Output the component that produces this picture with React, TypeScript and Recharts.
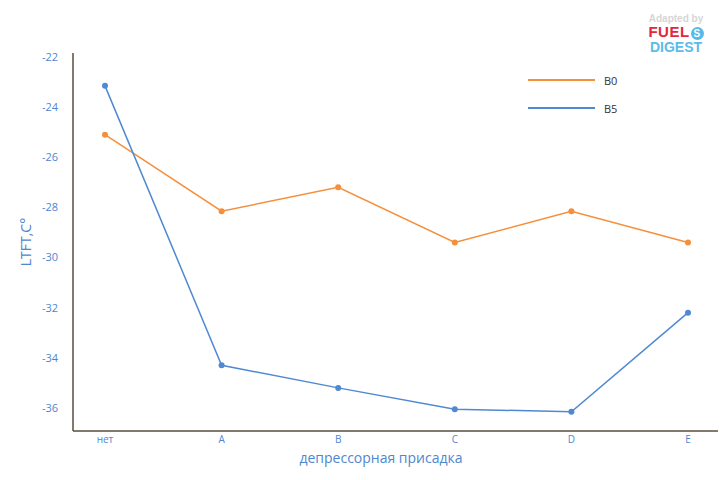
import React from 'react';
import { LineChart, Line, XAxis, YAxis, Legend } from 'recharts';

const categories = ['нет', 'A', 'B', 'C', 'D', 'E'];
const b0Values = [-25.1, -28.15, -27.2, -29.4, -28.15, -29.4];
const b5Values = [-23.15, -34.3, -35.2, -36.05, -36.15, -32.2];
const yTicks = [-22, -24, -26, -28, -30, -32, -34, -36];

const data = categories.map((name, i) => ({ name, B0: b0Values[i], B5: b5Values[i] }));

const ORANGE = '#f58f3c';
const BLUE = '#4f89d2';
const LABEL_BLUE = '#4f86d0';
const AXIS = '#5a4e3e';
const FONT = '"Open Sans", "Noto Sans", sans-serif';

const renderLegend = () => (
    <div style={{ fontFamily: FONT, fontSize: 11, color: '#333' }}>
        {[{ name: 'B0', color: ORANGE }, { name: 'B5', color: BLUE }].map((s) => (
            <div key={s.name} style={{ display: 'flex', alignItems: 'center', height: 28 }}>
                <div style={{ width: 67, height: 2, background: s.color, marginRight: 9 }} />
                <span>{s.name}</span>
            </div>
        ))}
    </div>
);

export default function App() {
    return (
        <div style={{ position: 'absolute', left: 0, top: 0, width: 720, height: 480, background: '#fff', fontFamily: FONT }}>
            <LineChart width={720} height={480} data={data} margin={{ top: 53, right: 2, bottom: 19, left: 0 }}>
                <XAxis
                    dataKey="name"
                    height={30}
                    padding={{ left: 32, right: 30 }}
                    axisLine={{ stroke: AXIS, strokeWidth: 1.5 }}
                    tickLine={false}
                    tickSize={0}
                    tickMargin={5}
                    tick={{ fill: LABEL_BLUE, fontSize: 10, fontFamily: FONT }}
                    label={{
                        content: () => (
                            <text x={381} y={463} textAnchor="middle" fill={LABEL_BLUE} fontSize={14} fontFamily={FONT}>
                                депрессорная присадка
                            </text>
                        ),
                    }}
                />
                <YAxis
                    width={73}
                    type="number"
                    domain={[-36.92, -21.84]}
                    ticks={yTicks}
                    interval={0}
                    allowDataOverflow
                    axisLine={{ stroke: AXIS, strokeWidth: 1.5 }}
                    tickLine={false}
                    tickSize={0}
                    tickMargin={15}
                    tick={{ fill: LABEL_BLUE, fontSize: 11, fontFamily: FONT }}
                    label={{
                        content: () => (
                            <text x={31} y={242} transform="rotate(-90 31 242)" textAnchor="middle" fill={LABEL_BLUE} fontSize={14} fontFamily={FONT}>
                                LTFT,C°
                            </text>
                        ),
                    }}
                />
                <Legend content={renderLegend} layout="vertical" verticalAlign="middle" align="center" wrapperStyle={{ left: 528, top: 66, width: 120 }} />
                <Line dataKey="B0" stroke={ORANGE} strokeWidth={1.5} dot={{ r: 3, fill: ORANGE, stroke: ORANGE, strokeWidth: 0 }} isAnimationActive={false} />
                <Line dataKey="B5" stroke={BLUE} strokeWidth={1.5} dot={{ r: 3, fill: BLUE, stroke: BLUE, strokeWidth: 0 }} isAnimationActive={false} />
            </LineChart>
            <div style={{ position: 'absolute', left: 640, top: 14, width: 72, textAlign: 'center', fontFamily: 'Arial, "Liberation Sans", sans-serif', fontWeight: 'bold', lineHeight: 1 }}>
                <div style={{ color: '#d6d6d6', fontSize: 10 }}>Adapted by</div>
                <div style={{ color: '#e3263b', fontSize: 15, letterSpacing: 0.5 }}>
                    FUEL<span style={{ display: 'inline-block', width: 13, height: 13, borderRadius: 7, background: '#58b8e8', color: '#fff', fontSize: 10, lineHeight: '13px', verticalAlign: 'middle', marginLeft: 1 }}>S</span>
                </div>
                <div style={{ color: '#5bbbea', fontSize: 14 }}>DIGEST</div>
            </div>
        </div>
    );
}
